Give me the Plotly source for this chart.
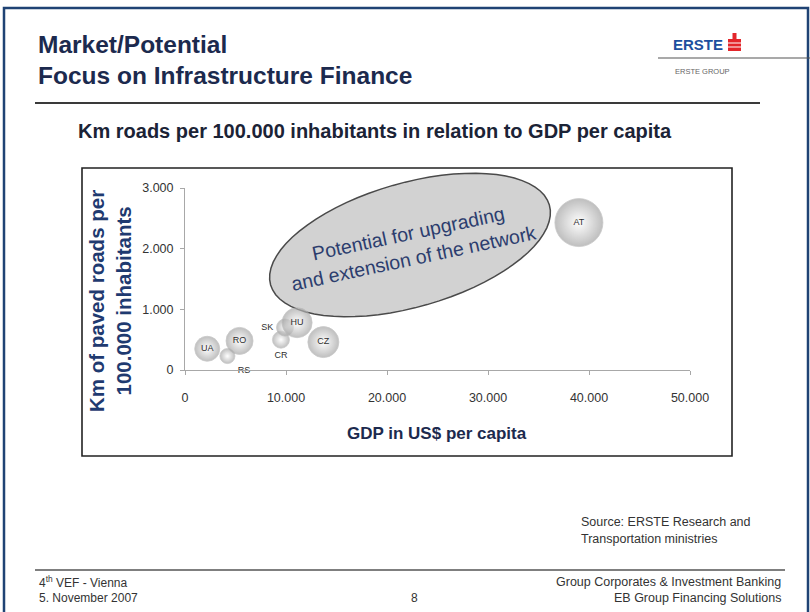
import math
import plotly.graph_objects as go

# ---- data -------------------------------------------------------------
countries = ["UA", "RS", "RO", "CR", "SK", "HU", "CZ", "AT"]
gdp_per_capita = [2200, 4200, 5400, 9500, 9900, 11100, 13700, 39000]
km_roads = [350, 230, 480, 500, 700, 780, 460, 2430]
bubble_weight = [25, 15, 27, 17, 17, 30, 31, 48]
label_pos = ["middle center", "bottom right", "middle center", "bottom center",
             "middle left", "middle center", "middle center", "middle center"]

x_ticks = [0, 10000, 20000, 30000, 40000, 50000]
x_tick_text = ["0", "10.000", "20.000", "30.000", "40.000", "50.000"]
y_ticks = [0, 1000, 2000, 3000]
y_tick_text = ["0", "1.000", "2.000", "3.000"]

# ---- page geometry (pixels) ------------------------------------------
W, H = 810, 612
PL, PR, PT, PB = 185, 690, 188, 370   # plot area edges


def px(x):
    return (x - PL) / (PR - PL)


def py(y):
    return (PB - y) / (PB - PT)


FONT = "Liberation Sans, Arial, sans-serif"
NAVY = "#1c2a4e"

fig = go.Figure()

fig.add_trace(go.Scatter(
    x=gdp_per_capita, y=km_roads, mode="markers+text",
    text=countries, textposition=label_pos,
    textfont=dict(family=FONT, size=9, color="#2e2e2e"),
    marker=dict(size=bubble_weight, color="#a4a4a4",
                gradient=dict(type="radial", color="#ffffff"),
                line=dict(color="#b4b4b4", width=0.8)),
    cliponaxis=False, hoverinfo="skip", showlegend=False,
))

shapes = []
annotations = []

# slide border
shapes.append(dict(type="rect", xref="paper", yref="paper",
                   x0=px(4), x1=px(808), y0=py(8), y1=py(640),
                   line=dict(color="#1f4374", width=2.5)))
# header rule
shapes.append(dict(type="line", xref="paper", yref="paper",
                   x0=px(35), x1=px(760), y0=py(103), y1=py(103),
                   line=dict(color="#3a3a3a", width=2)))
# logo rule
shapes.append(dict(type="line", xref="paper", yref="paper",
                   x0=px(658), x1=px(812), y0=py(58), y1=py(58),
                   line=dict(color="#555555", width=1.2)))
# logo emblem
shapes.append(dict(type="rect", xref="paper", yref="paper",
                   x0=px(728), x1=px(741), y0=py(39), y1=py(51),
                   fillcolor="#e3262b", line=dict(width=0)))
shapes.append(dict(type="rect", xref="paper", yref="paper",
                   x0=px(732.5), x1=px(736.5), y0=py(33), y1=py(39),
                   fillcolor="#e3262b", line=dict(width=0)))
for yy in (43, 47):
    shapes.append(dict(type="line", xref="paper", yref="paper",
                       x0=px(728), x1=px(741), y0=py(yy), y1=py(yy),
                       line=dict(color="#ffffff", width=1)))
# chart frame
shapes.append(dict(type="rect", xref="paper", yref="paper",
                   x0=px(82), x1=px(732), y0=py(168), y1=py(456),
                   line=dict(color="#222222", width=1.6), layer="below"))
# footer rule
shapes.append(dict(type="line", xref="paper", yref="paper",
                   x0=px(35), x1=px(785), y0=py(570), y1=py(570),
                   line=dict(color="#555555", width=1.5)))

# rotated ellipse outlining the potential area
cx, cy, a, b, ang = 410, 245, 145, 62, math.radians(16)
pts = []
for i in range(73):
    t = 2 * math.pi * i / 72
    ex = cx + a * math.cos(t) * math.cos(ang) + b * math.sin(t) * math.sin(ang)
    ey = cy - a * math.cos(t) * math.sin(ang) + b * math.sin(t) * math.cos(ang)
    pts.append(f"{px(ex):.5f},{py(ey):.5f}")
shapes.append(dict(type="path", xref="paper", yref="paper",
                   path="M " + " L ".join(pts) + " Z",
                   fillcolor="#d2d2d2", line=dict(color="#4a4a4a", width=1.5),
                   layer="below"))


def note(x, y, text, size, color="#333333", bold=False, xanchor="left",
         angle=0, family=FONT):
    if bold:
        text = f"<b>{text}</b>"
    annotations.append(dict(xref="paper", yref="paper", x=px(x), y=py(y),
                            text=text, showarrow=False, xanchor=xanchor,
                            yanchor="middle", textangle=angle,
                            font=dict(family=family, size=size, color=color)))


note(36, 45, "Market/Potential", 24.5, NAVY, bold=True)
note(36, 75, "Focus on Infrastructure Finance", 24.5, NAVY, bold=True)
note(671, 44, "ERSTE", 15, "#1d4f9e", bold=True)
note(673, 71, "ERSTE GROUP", 7.5, "#666666")
note(76, 131, "Km roads per 100.000 inhabitants in relation to GDP per capita",
     20, "#1b2336", bold=True)
note(411, 245, "Potential for upgrading<br>and extension of the network",
     19.5, "#2c3d6e", xanchor="center", angle=-12)
note(110, 301, "Km of paved roads per<br>100.000 inhabitants", 20.5,
     "#1f3a70", bold=True, xanchor="center", angle=-90)
note(437, 433, "GDP in US$ per capita", 17, NAVY, bold=True, xanchor="center")
note(579, 522, "Source: ERSTE Research and", 12.5)
note(579, 539, "Transportation ministries", 12.5)
note(37, 582, "4<sup>th</sup> VEF - Vienna", 12)
note(37, 598, "5. November 2007", 12)
note(414, 598, "8", 12, xanchor="center")
note(783, 582, "Group Corporates &amp; Investment Banking", 12.5, xanchor="right")
note(783, 598, "EB Group Financing Solutions", 12.5, xanchor="right")

fig.update_layout(
    width=W, height=H,
    margin=dict(l=PL, r=W - PR, t=PT, b=H - PB, pad=0),
    paper_bgcolor="#ffffff", plot_bgcolor="#ffffff",
    shapes=shapes, annotations=annotations,
    xaxis=dict(range=[0, 50000], tickvals=x_ticks, ticktext=x_tick_text,
               showgrid=False, zeroline=False, showline=True,
               linecolor="#a8a8a8", linewidth=1, ticks="outside", ticklen=4,
               tickcolor="#a8a8a8", ticklabelstandoff=12,
               tickfont=dict(family=FONT, size=12.5, color="#333333")),
    yaxis=dict(range=[0, 3000], tickvals=y_ticks, ticktext=y_tick_text,
               showgrid=False, zeroline=False, showline=True,
               linecolor="#a8a8a8", linewidth=1, ticks="outside", ticklen=4,
               tickcolor="#a8a8a8", ticklabelstandoff=4,
               tickfont=dict(family=FONT, size=12.5, color="#333333")),
)

fig.write_html("out.html")
